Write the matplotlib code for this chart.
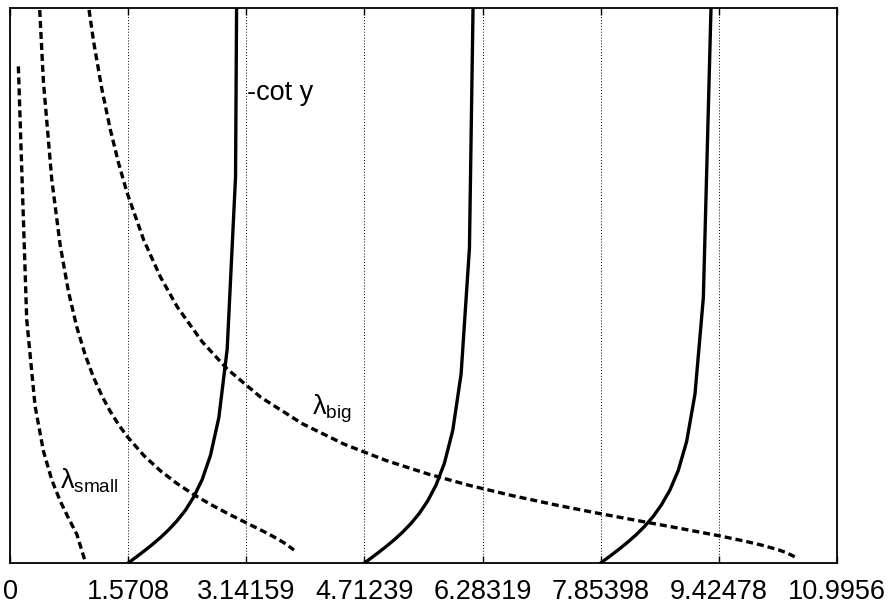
import matplotlib
matplotlib.use("Agg")

import matplotlib.pyplot as plt

plt.rcParams["font.family"] = ["Liberation Sans", "DejaVu Sans"]
plt.rcParams["mathtext.fontset"] = "custom"
plt.rcParams["mathtext.rm"] = "Liberation Sans"
plt.rcParams["mathtext.it"] = "Liberation Sans"

# x axis ticks (multiples of pi/2)
tick_pos = [0, 1.5708, 3.14159, 4.71239, 6.28319, 7.85398, 9.42478, 10.9956]
tick_labels = ["0", "1.5708", "3.14159", "4.71239", "6.28319", "7.85398", "9.42478", "10.9956"]

# -cot y, three branches (coarse samples, as in the original)
cot1_x = [1.5708, 1.6660, 1.7771, 1.8881, 1.9992, 2.1103, 2.2213, 2.3324, 2.4435,
          2.5545, 2.6656, 2.7767, 2.8877, 2.9988, 3.1099]
cot1_y = [0.0, 0.0955, 0.2094, 0.3284, 0.4570, 0.5994, 0.7610, 0.9506, 1.192,
          1.502, 1.940, 2.619, 3.854, 6.955, 31.50]
cot2_x = [4.71239, 4.7758, 4.8869, 4.9980, 5.1090, 5.2201, 5.3312, 5.4422, 5.5533,
          5.6644, 5.7754, 5.8865, 5.9976, 6.1086, 6.2197]
cot2_y = [0.0, 0.0635, 0.1763, 0.2937, 0.4188, 0.5563, 0.7123, 0.8944, 1.118,
          1.404, 1.797, 2.387, 3.404, 5.671, 15.73]
cot3_x = [7.85398, 7.8857, 7.9968, 8.1078, 8.2189, 8.3300, 8.4410, 8.5521, 8.6632,
          8.7742, 8.8853, 8.9964, 9.1074, 9.2185, 9.3295]
cot3_y = [0.0, 0.0317, 0.1438, 0.2595, 0.3819, 0.5155, 0.6657, 0.8389, 1.0519,
          1.3140, 1.6682, 2.1895, 3.0439, 4.778, 10.468]

# lambda curves
lam_small_x = [0.1111, 0.2221, 0.3332, 0.4443, 0.5553, 0.6664, 0.7775, 0.8885, 0.9996]
lam_small_y = [8.948, 4.389, 2.830, 2.017, 1.4975, 1.1188, 0.8090, 0.5164, 0.0287]

lam_mid_x = [0.3332, 0.4443, 0.5553, 0.6664, 0.7775, 0.8885, 0.9996, 1.1107, 1.2217,
             1.3328, 1.4439, 1.5549, 1.7771, 1.9992, 2.2213, 2.4435, 2.6656, 2.8877,
             3.1099, 3.3320, 3.4431, 3.5541, 3.6652, 3.7762]
lam_mid_y = [11.596, 8.672, 6.911, 5.733, 4.887, 4.249, 3.749, 3.345, 3.013,
             2.732, 2.493, 2.285, 1.940, 1.662, 1.431, 1.232, 1.0567, 0.8964,
             0.7450, 0.5955, 0.5183, 0.4366, 0.3457, 0.2337]

lam_big_x = [0.9996, 1.1107, 1.2217, 1.3328, 1.4439, 1.5549, 1.7771, 1.9992, 2.2213,
             2.5545, 2.8877, 3.3320, 3.8873, 4.4426, 4.9980, 5.5533, 6.1086, 6.6640,
             7.2193, 7.7746, 8.3300, 8.8853, 9.4406, 9.7738, 9.9959, 10.2181,
             10.3291, 10.4402]
lam_big_y = [10.456, 9.401, 8.536, 7.815, 7.203, 6.678, 5.823, 5.156, 4.620,
             3.987, 3.496, 2.988, 2.509, 2.141, 1.848, 1.605, 1.398, 1.218,
             1.0561, 0.9077, 0.7674, 0.6297, 0.4869, 0.3926, 0.3216, 0.2365,
             0.1826, 0.1072]

fig = plt.figure(figsize=(8.94, 6.06), dpi=100)
ax = fig.add_axes([10 / 894, 43 / 606, 827 / 894, 555 / 606])

for xs, ys in [(cot1_x, cot1_y), (cot2_x, cot2_y), (cot3_x, cot3_y)]:
    ax.plot(xs, ys, color="black", lw=2.4)

for xs, ys in [(lam_small_x, lam_small_y), (lam_mid_x, lam_mid_y), (lam_big_x, lam_big_y)]:
    ax.plot(xs, ys, color="black", lw=2.4, dashes=(2.1, 1.2))

ax.set_xlim(0, 10.9956)
ax.set_ylim(0, 10)
ax.set_xticks(tick_pos)
ax.set_xticklabels(tick_labels, fontsize=19.5)
ax.set_yticks([])
ax.tick_params(axis="x", direction="in", top=True, length=5, width=1, pad=11.5)
ax.grid(axis="x", color="black", lw=0.7, linestyle=(0, (1, 2)))
for s in ax.spines.values():
    s.set_linewidth(1.3)

ax.text(3.151, 8.34, "-cot y", fontsize=19.5, ha="left", va="baseline")
ax.text(4.015, 2.67, r"$\lambda_{\mathrm{big}}$", fontsize=19.5, ha="left", va="baseline")
ax.text(0.665, 1.35, r"$\lambda_{\mathrm{small}}$", fontsize=19.5, ha="left", va="baseline")

plt.savefig("out.png", dpi=100)
